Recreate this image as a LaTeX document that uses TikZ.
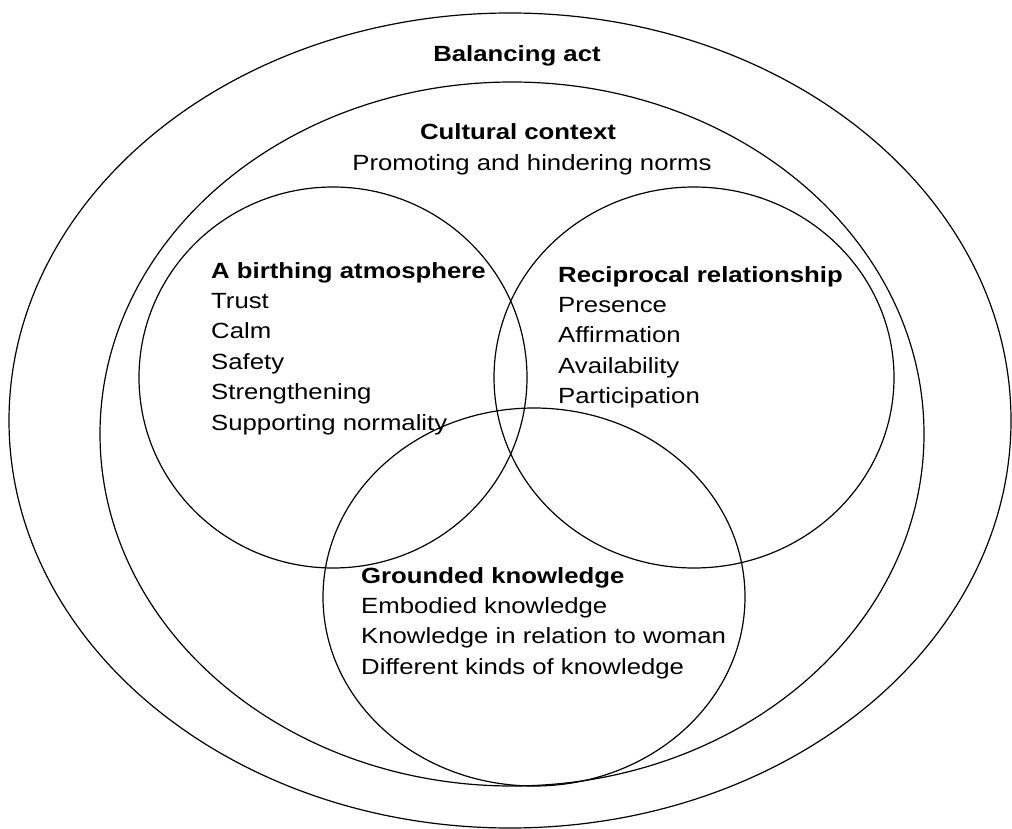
\documentclass[tikz,border=0pt]{standalone}
\usepackage{fontspec}
\setmainfont{Liberation Sans}[FakeStretch=1.17]
\begin{document}
\begin{tikzpicture}[x=1pt,y=-1pt,
  ring/.style={draw=black,line width=1.2pt},
  txt/.style={inner sep=0pt,anchor=base west,font=\fontsize{22}{26}\selectfont},
  ttl/.style={inner sep=0pt,anchor=base west,font=\fontsize{22}{26}\selectfont\bfseries},
  ctxt/.style={inner sep=0pt,anchor=base,font=\fontsize{22}{26}\selectfont},
  cttl/.style={inner sep=0pt,anchor=base,font=\fontsize{22}{26}\selectfont\bfseries}]
\useasboundingbox (0,0) rectangle (1012,829);
\fill[white] (0,0) rectangle (1012,829);
% ellipses
\draw[ring] (510,420.5) ellipse [x radius=501, y radius=407.5];
\draw[ring] (512,434) ellipse [x radius=412, y radius=352];
\draw[ring] (333,377.5) ellipse [x radius=194, y radius=190.5];
\draw[ring] (694,377.5) ellipse [x radius=200, y radius=190.5];
\draw[ring] (534,597) ellipse [x radius=211, y radius=189];
% outer texts
\node[cttl] (bal) at (517,62) {Balancing act};
\node[cttl] (cul) at (518,140) {Cultural context};
\node[ctxt] (prom) at (532,171) {Promoting and hindering norms};
% birthing atmosphere
\node[ttl] (ba) at (211,278) {A birthing atmosphere};
\node[txt] (ba1) at (211,308.4) {Trust};
\node[txt] (ba2) at (211,338.8) {Calm};
\node[txt] (ba3) at (211,369.2) {Safety};
\node[txt] (ba4) at (211,399.6) {Strengthening};
\node[txt] (ba5) at (211,430) {Supporting normality};
% reciprocal relationship
\node[ttl] (rr) at (558,282) {Reciprocal relationship};
\node[txt] (rr1) at (558,312.4) {Presence};
\node[txt] (rr2) at (558,342.8) {Affirmation};
\node[txt] (rr3) at (558,373.2) {Availability};
\node[txt] (rr4) at (558,403.6) {Participation};
% grounded knowledge
\node[ttl] (gk) at (361,583) {Grounded knowledge};
\node[txt] (gk1) at (361,613.4) {Embodied knowledge};
\node[txt] (gk2) at (361,643.8) {Knowledge in relation to woman};
\node[txt] (gk3) at (361,674.2) {Different kinds of knowledge};
\end{tikzpicture}
\end{document}
